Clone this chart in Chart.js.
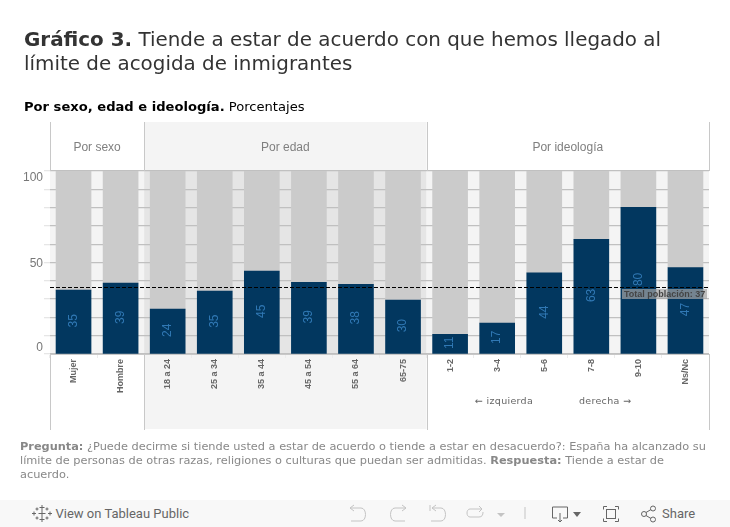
<!DOCTYPE html>
<html>
<head>
<meta charset="utf-8">
<title>Gráfico 3</title>
<script src="https://cdn.jsdelivr.net/npm/chart.js@4"></script>
<style>
html, body { margin: 0; padding: 0; background: #fff; overflow: hidden; }
#wrap { position: relative; width: 730px; height: 527px; font-family: "DejaVu Sans", sans-serif; }
#chart { position: absolute; left: 0; top: 0; }
.txt { position: absolute; white-space: nowrap; }
#title { left: 24px; top: 28px; font-size: 19.9px; line-height: 24px; color: #333; }
#subtitle { left: 24px; top: 99px; font-size: 13.1px; line-height: 16px; color: #000; }
#note { left: 20px; top: 439px; font-size: 11.33px; line-height: 14px; color: #888; }
.dir { top: 395px; font-size: 9.5px; line-height: 12px; color: #666; letter-spacing: 0.3px; }
#bar { position: absolute; left: 0; top: 500px; width: 730px; height: 27px; background: #f8f8f8; }
#view { left: 55.500px; top: 6px; font: 13px/15px Roboto, sans-serif; color: #666; }
#share { left: 662px; top: 6px; font: 13px/15px Roboto, sans-serif; color: #666; }
#bar svg { position: absolute; left: 0; top: 0; }
</style>
</head>
<body>
<div id="wrap">
  <canvas id="chart" width="730" height="527"></canvas>
  <div class="txt" id="title"><b>Gráfico 3.</b> Tiende a estar de acuerdo con que hemos llegado al<br>límite de acogida de inmigrantes</div>
  <div class="txt" id="subtitle"><b>Por sexo, edad e ideología.</b> Porcentajes</div>
  <div class="txt dir" style="left:475px">← izquierda</div>
  <div class="txt dir" style="left:579px">derecha →</div>
  <div class="txt" id="note"><b>Pregunta:</b> ¿Puede decirme si tiende usted a estar de acuerdo o tiende a estar en desacuerdo?: España ha alcanzado su<br>límite de personas de otras razas, religiones o culturas que puedan ser admitidas. <b>Respuesta:</b> Tiende a estar de<br>acuerdo.</div>
  <div id="bar">
    <svg width="730" height="27" fill="none" stroke-width="1">
      <g stroke="#666">
        <path d="M42 5v5M39.500 7.500h5M42 17v5M39.500 19.500h5M34 11.500v4M32 13.500h4M50 11.500v4M48 13.500h4"/>
        <path d="M42 10v7M38.500 13.500h7M37 7.500v3M35.500 9h3M47 7.500v3M45.500 9h3M37 16.500v3M35.500 18h3M47 16.500v3M45.500 18h3"/>
      </g>
      <g stroke="#c4c4c4">
        <path d="M354 5l-4 3 4 3M350 8h11c6 0 6 13 0 13h-10"/>
        <path d="M402 5l4 3-4 3M406 8h-11c-6 0-6 13 0 13h10"/>
        <path d="M430 5v6M436 5l-4 3 4 3M432 8h9c6 0 6 13 0 13h-10"/>
        <path d="M479 6l3 3-3 3M482 9h-12c-4 0-4 8 0 8h9c3 0 4-2 4-5"/>
        <path d="M525 7v12"/>
      </g>
      <path d="M497 13h8l-4 4z" fill="#c4c4c4"/>
      <g stroke="#666">
        <path d="M557 18h-4.500v-11h15v11h-4.500M560 13v9M558 20l2 2 2-2"/>
        <path d="M607 6.500h-3.500v3M615 6.500h3.500v3M607 21.500h-3.500v-3M615 21.500h3.500v-3"/>
        <rect x="606.500" y="9.500" width="9" height="9"/>
        <circle cx="644" cy="14" r="2.500"/><circle cx="653" cy="8.500" r="2.500"/><circle cx="653" cy="19.500" r="2.500"/>
        <path d="M646 12.500l5-3M646 15.500l5 3"/>
      </g>
      <path d="M573 12h8l-4 5z" fill="#666"/>
    </svg>
    <div class="txt" id="view">View on Tableau Public</div>
    <div class="txt" id="share">Share</div>
  </div>
</div>

<script>
// Data
const categories = ['Mujer', 'Hombre', '18 a 24', '25 a 34', '35 a 44', '45 a 54', '55 a 64', '65-75', '1-2', '3-4', '5-6', '7-8', '9-10', 'Ns/Nc'];
const agreeValues = [34.9, 38.7, 24.5, 34.4, 45.3, 39.2, 38.1, 29.5, 10.7, 16.9, 44.3, 62.6, 80.1, 47.2];
const restValues = [65.1, 61.3, 75.5, 65.6, 54.7, 60.8, 61.9, 70.5, 89.3, 83.1, 55.7, 37.4, 19.9, 52.8];
const valueLabels = ['35', '39', '24', '35', '45', '39', '38', '30', '11', '17', '44', '63', '80', '47'];
const yTickLabels = [0, 50, 100];
const totalValue = 36.5;
const totalLabel = 'Total población: 37';

// Panels: name, first category, last category
const groupNames = ['Por sexo', 'Por edad', 'Por ideología'];
const groupStart = [0, 2, 8];
const groupEnd = [1, 7, 13];

const FONT = '"Liberation Sans", Arial, sans-serif';

// Panel backgrounds, drawn below the grid
const panelPlugin = {
    id: 'panels',
    beforeDraw(chart) {
        const ctx = chart.ctx;
        const x = chart.scales.x;
        const area = chart.chartArea;
        const half = (x.getPixelForTick(1) - x.getPixelForTick(0)) / 2;
        ctx.save();
        groupNames.forEach((name, i) => {
            const left = x.getPixelForTick(groupStart[i]) - half;
            const right = x.getPixelForTick(groupEnd[i]) + half;
            const middle = i === 1;
            ctx.fillStyle = middle ? '#e5e5e5' : '#f4f4f4';
            ctx.fillRect(left, area.top, right - left, area.bottom - area.top);
            if (middle) {
                ctx.fillStyle = '#f4f4f4';
                ctx.fillRect(left, 122, right - left, area.top - 122);
                ctx.fillRect(left, area.bottom, right - left, 429 - area.bottom);
            }
        });
        ctx.restore();
    },
    afterDraw(chart) {
        const ctx = chart.ctx;
        const x = chart.scales.x;
        const y = chart.scales.y;
        const half = (x.getPixelForTick(1) - x.getPixelForTick(0)) / 2;
        ctx.save();

        // separators and panel headers
        ctx.strokeStyle = '#c8c8c8';
        ctx.lineWidth = 1;
        groupNames.forEach((name, i) => {
            const left = x.getPixelForTick(groupStart[i]) - half;
            const right = x.getPixelForTick(groupEnd[i]) + half;
            [left, right].forEach(p => {
                ctx.beginPath();
                ctx.moveTo(Math.round(p) + 0.5, 122);
                ctx.lineTo(Math.round(p) + 0.5, chart.chartArea.top);
                ctx.moveTo(Math.round(p) + 0.5, chart.chartArea.bottom);
                ctx.lineTo(Math.round(p) + 0.5, 430);
                ctx.stroke();
            });
            ctx.fillStyle = '#7f7f7f';
            ctx.font = '12px ' + FONT;
            ctx.textAlign = 'center';
            ctx.textBaseline = 'middle';
            ctx.fillText(name, (left + right) / 2, 148);
        });

        // y labels sit inside the axis ends
        ctx.fillStyle = '#777';
        ctx.font = '12px ' + FONT;
        ctx.textAlign = 'right';
        yTickLabels.forEach(v => {
            const shift = v === 100 ? 7 : v === 0 ? -6 : 1;
            ctx.fillText(String(v), 43, y.getPixelForValue(v) + shift);
        });

        // values inside the bars
        ctx.fillStyle = '#3078b4';
        ctx.font = '12px ' + FONT;
        ctx.textAlign = 'center';
        chart.getDatasetMeta(0).data.forEach((bar, i) => {
            ctx.save();
            ctx.translate(bar.x, (bar.y + bar.base) / 2 - 1);
            ctx.rotate(-Math.PI / 2);
            ctx.fillText(valueLabels[i], 0, 0);
            ctx.restore();
        });

        // total line and its tag
        const ty = Math.round(y.getPixelForValue(totalValue)) + 0.5;
        ctx.strokeStyle = '#000';
        ctx.setLineDash([4, 2]);
        ctx.beginPath();
        ctx.moveTo(chart.chartArea.left, ty);
        ctx.lineTo(chart.chartArea.right - 1, ty);
        ctx.stroke();
        ctx.setLineDash([]);

        ctx.fillStyle = 'rgba(165,165,165,0.7)';
        ctx.fillRect(622, ty + 1.5, 85, 10);
        ctx.fillStyle = '#444';
        ctx.font = 'bold 9px ' + FONT;
        ctx.textAlign = 'left';
        ctx.fillText(totalLabel, 624, ty + 7);
        ctx.restore();
    }
};

new Chart(document.getElementById('chart').getContext('2d'), {
    type: 'bar',
    data: {
        labels: categories,
        datasets: [
            { label: 'De acuerdo', data: agreeValues, backgroundColor: '#02375f', barThickness: 35, stack: 's' },
            { label: 'Resto', data: restValues, backgroundColor: '#cbcbcb', barThickness: 35, stack: 's' }
        ]
    },
    options: {
        responsive: false,
        animation: false,
        events: [],
        layout: { padding: { left: 44, right: 21, top: 171, bottom: 97 } },
        plugins: { legend: { display: false }, tooltip: { enabled: false } },
        scales: {
            x: {
                stacked: true,
                afterFit(scale) { scale.height = 76; },
                grid: { drawOnChartArea: false, tickLength: 4, color: '#ececec' },
                border: { color: '#c8c8c8' },
                ticks: {
                    autoSkip: false,
                    minRotation: 90,
                    maxRotation: 90,
                    padding: 1,
                    color: '#666',
                    font: { family: FONT, size: 9, weight: 'bold' }
                }
            },
            y: {
                stacked: true,
                min: 0,
                max: 100,
                afterFit(scale) { scale.width = 6; },
                grid: { color: '#c0c0c0', tickColor: '#e6e6e6', lineWidth: 1.3, tickLength: 6 },
                border: { display: false },
                ticks: { display: false, stepSize: 10 }
            }
        }
    },
    plugins: [panelPlugin]
});
</script>
</body>
</html>
